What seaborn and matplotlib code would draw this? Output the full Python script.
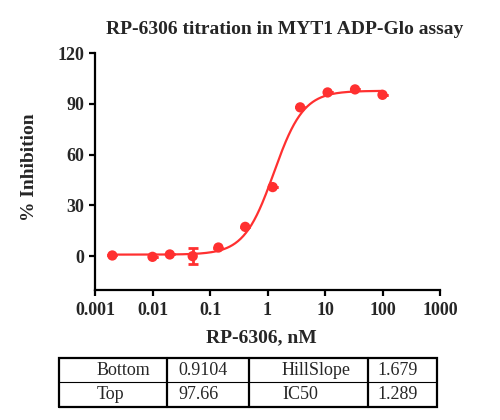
import numpy as np
import pandas as pd
import matplotlib
matplotlib.use('Agg')
import matplotlib.pyplot as plt
import seaborn as sns

conc_nM = [0.002, 0.01, 0.02, 0.05, 0.14, 0.41, 1.23, 3.7, 11.1, 33.3, 100]
inhibition = [0.4, -0.4, 1.0, 0.0, 5.1, 17.3, 40.8, 87.9, 96.7, 98.5, 95.3]
error = [0, 0, 0, 4.6, 0, 0, 0, 0, 0, 0, 0]

# Fitted 4PL parameters (shown in the table)
fit_names = ['Bottom', 'Top', 'HillSlope', 'IC50']
fit_labels = ['0.9104', '97.66', '1.679', '1.289']
bottom, top, hill, ic50 = [float(v) for v in fit_labels]

x_ticks = [0.001, 0.01, 0.1, 1, 10, 100, 1000]
x_tick_labels = ['0.001', '0.01', '0.1', '1', '10', '100', '1000']
y_ticks = [0, 30, 60, 90, 120]

RED = '#FF3030'

sns.set_theme(style='ticks')
plt.rcParams['font.family'] = ['Liberation Serif', 'DejaVu Serif']
plt.rcParams['axes.linewidth'] = 1.6

df = pd.DataFrame({'conc': conc_nM, 'inh': inhibition, 'err': error})

# fitted curve from the table parameters
xc = np.geomspace(conc_nM[0], conc_nM[-1], 300)
curve = pd.DataFrame({'conc': xc,
                      'inh': bottom + (top - bottom) / (1 + (ic50 / xc) ** hill)})

fig = plt.figure(figsize=(5, 4.2), dpi=100)
ax = fig.add_axes([0.19, 0.3095, 0.69, 0.5643])

sns.lineplot(data=curve, x='conc', y='inh', ax=ax, color=RED, lw=1.6)
ax.errorbar(df['conc'], df['inh'], yerr=df['err'], fmt='none', ecolor=RED,
            elinewidth=2, capsize=3.5, capthick=2)
sns.scatterplot(data=df, x='conc', y='inh', ax=ax, color=RED, s=55,
                edgecolor='none', zorder=3)

ax.set_xscale('log')
ax.set_xlim(0.001, 1000)
ax.set_ylim(-20, 120)
ax.set_xticks(x_ticks)
ax.set_xticklabels(x_tick_labels)
ax.set_yticks(y_ticks)
ax.xaxis.set_minor_locator(matplotlib.ticker.NullLocator())
ax.tick_params(axis='both', length=4.5, width=1.6, direction='out',
               labelsize=13, color='black')
ax.tick_params(axis='y', pad=3)
ax.tick_params(axis='x', pad=4)
for lab in ax.get_xticklabels() + ax.get_yticklabels():
    lab.set_fontweight('bold')
ax.set_xlabel('')
ax.set_ylabel('')
sns.despine(ax=ax)
for s in ['left', 'bottom']:
    ax.spines[s].set_color('black')

fig.text(0.57, 0.929, 'RP-6306 titration in MYT1 ADP-Glo assay',
         ha='center', va='center', fontsize=14, fontweight='bold')
fig.text(0.522, 0.195, 'RP-6306, nM', ha='center', va='center',
         fontsize=14, fontweight='bold')
fig.text(0.06, 0.602, '% Inhibition', ha='center', va='center',
         rotation=90, fontsize=14, fontweight='bold')

# parameter table
tx = fig.add_axes([0.118, 0.031, 0.756, 0.117])
tx.set_xlim(59, 437)
tx.set_ylim(0, 2)
tx.axis('off')
col_edges = [59, 167, 249, 368, 437]
col_pad = [38, 11, 33, 9]
tx.plot([59, 437, 437, 59, 59], [0, 0, 2, 2, 0], color='black', lw=1.6,
        solid_joinstyle='miter', clip_on=False)
for cx in col_edges[1:-1]:
    tx.plot([cx, cx], [0, 2], color='black', lw=1.6, clip_on=False)
tx.plot([59, 437], [1, 1], color='black', lw=0.8, clip_on=False)
cells = [[fit_names[0], fit_labels[0], fit_names[2], fit_labels[2]],
         [fit_names[1], fit_labels[1], fit_names[3], fit_labels[3]]]
for r, row in enumerate(cells):
    for c, txt in enumerate(row):
        tx.text(col_edges[c] + col_pad[c], 1.5 - r, txt, ha='left',
                va='center', fontsize=13)

fig.savefig('out.png', dpi=100)
